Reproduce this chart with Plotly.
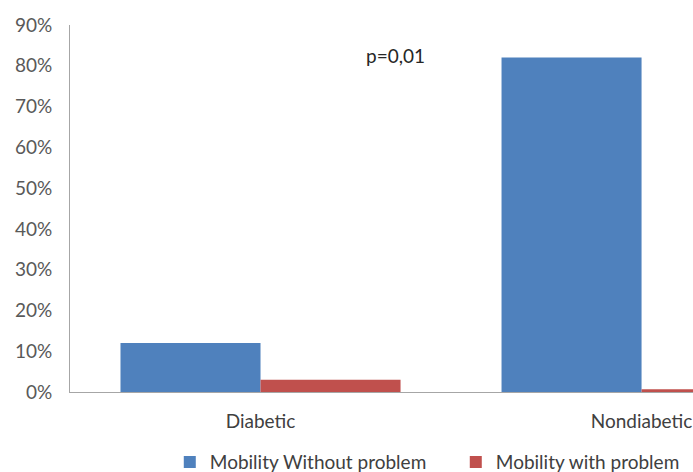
import plotly.graph_objects as go

categories = ["Diabetic", "Nondiabetic"]
without_problem = [0.12, 0.82]
with_problem = [0.03, 0.007]
series_names = ["Mobility Without problem", "Mobility with problem"]
y_ticks = [0, 0.1, 0.2, 0.3, 0.4, 0.5, 0.6, 0.7, 0.8, 0.9]
y_ticklabels = [f"{int(round(v * 100))}%" for v in y_ticks]

FONT = "Lato, Open Sans, sans-serif"
x_pos = list(range(len(categories)))

fig = go.Figure()
fig.add_trace(go.Bar(x=x_pos, y=without_problem, name=series_names[0],
                     marker=dict(color="#4F81BD", line=dict(width=0))))
fig.add_trace(go.Bar(x=x_pos, y=with_problem, name=series_names[1],
                     marker=dict(color="#C0504D", line=dict(width=0))))

fig.add_annotation(x=0.353, y=0.824, xref="x", yref="y", text="p=0,01",
                   showarrow=False, font=dict(family=FONT, size=19, color="#262626"))

fig.update_layout(
    width=693, height=472,
    margin=dict(l=70, r=0, t=25, b=80),
    paper_bgcolor="white", plot_bgcolor="white",
    barmode="group", bargap=0.265, bargroupgap=0,
    font=dict(family=FONT, size=19, color="#595959"),
    showlegend=True,
    legend=dict(orientation="h", xref="container", yref="container",
                x=0.245, y=0.021, xanchor="left", yanchor="middle",
                entrywidth=241, entrywidthmode="pixels",
                font=dict(family=FONT, size=19, color="#404040"),
                traceorder="normal", bgcolor="rgba(0,0,0,0)"),
    xaxis=dict(range=[-0.5, 1.135], tickvals=x_pos, ticktext=categories,
               showgrid=False, zeroline=False, showline=True, linecolor="#A6A6A6",
               linewidth=1, ticks="", ticklabelstandoff=12,
               tickfont=dict(family=FONT, size=19, color="#404040"),
               fixedrange=True),
    yaxis=dict(range=[0, 0.9], tickvals=y_ticks, ticktext=y_ticklabels,
               showgrid=False, zeroline=False, showline=True, linecolor="#A6A6A6",
               linewidth=1, ticks="", ticklabelstandoff=13,
               tickfont=dict(family=FONT, size=19, color="#595959")),
)

fig.write_html("out.html")
